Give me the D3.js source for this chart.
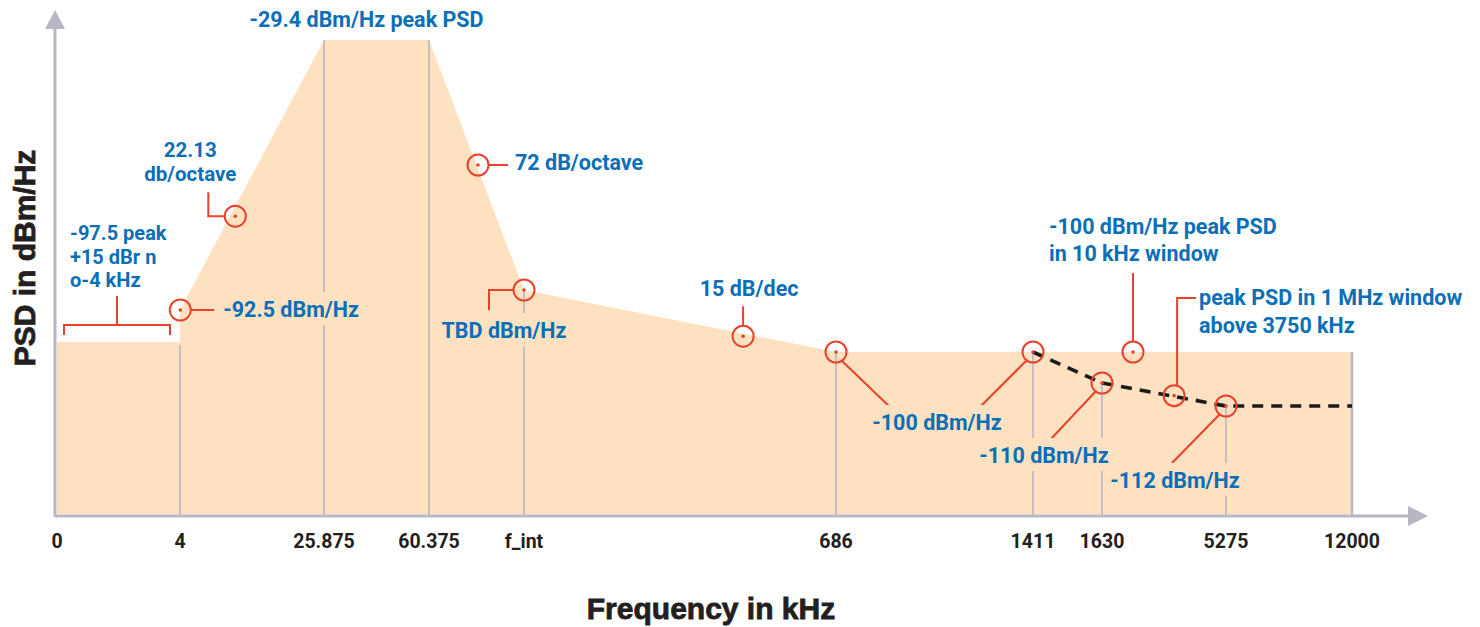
<!DOCTYPE html>
<html>
<head>
<meta charset="utf-8">
<script src="https://cdn.jsdelivr.net/npm/d3@7/dist/d3.min.js"></script>
<style>
  html, body { margin: 0; padding: 0; background: #fff; }
  svg { display: block; }
  .lbl { font-family: Roboto, "Noto Sans", sans-serif; font-weight: 700; fill: #0b6fb8; font-size: 21.5px; }
  .tick { font-family: Roboto, "Noto Sans", sans-serif; font-weight: 700; fill: #231f20; font-size: 19.5px; }
  .title { font-family: "Liberation Sans", Arial, sans-serif; font-weight: 700; fill: #231f20; font-size: 30px; stroke: #231f20; stroke-width: 0.8px; }
</style>
</head>
<body>
<svg id="chart" width="1480" height="627"></svg>
<script>
// ---------------- DATA ----------------
// tick frequencies (kHz) along the schematic frequency axis; f_int ~ 105 kHz
const tickFreqs  = [0, 4, 25.875, 60.375, 105, 686, 1411, 1630, 5275, 12000];
const tickLabels = ["0", "4", "25.875", "60.375", "f_int", "686", "1411", "1630", "5275", "12000"];

// PSD mask (frequency kHz, dBm/Hz) — schematic
const maskFreqs  = [0, 4, 4, 25.875, 60.375, 105, 686, 12000];
const maskValues = [-97.5, -97.5, -92.5, -29.4, -29.4, -87, -100, -100];

// dashed (alternative) limit
const dashFreqs  = [1411, 1630, 5275, 12000];
const dashValues = [-100, -110, -112, -112];

// schematic level marks of the y axis (dBm/Hz) — axis is not to scale
const yLevels = [-112, -110, -100, -97.5, -92.5, -87, -29.4];

// ---------------- SCALES ----------------
const tickPos = [57, 180, 324, 429, 524, 836, 1033, 1102, 1226, 1352];
const x = d3.scaleLinear().domain(tickFreqs).range(tickPos);
const levelPos = [406, 383, 352, 342, 310, 290, 40];
const y = d3.scaleLinear().domain(yLevels).range(levelPos);
const baseY = 514;

const svg = d3.select("#chart");
const RED = "#e8412c", BLUE = "#0b6fb8", GRAY = "#b7b7c3", FILL = "#fde1c0";

// ---------------- MASK AREA ----------------
const mask = maskFreqs.map((f, i) => ({ f, v: maskValues[i] }));
svg.append("path")
  .datum(mask)
  .attr("fill", FILL)
  .attr("d", d3.area().x(d => x(d.f)).y0(baseY).y1(d => y(d.v)));

// ---------------- GRID LINES ----------------
function maskTopAt(f) {
  const vals = mask.filter(d => d.f === f).map(d => d.v);
  if (vals.length) return d3.min(vals);
  for (let i = 0; i < mask.length - 1; i++) {
    if (f >= mask[i].f && f <= mask[i + 1].f) {
      const t = (f - mask[i].f) / (mask[i + 1].f - mask[i].f);
      return mask[i].v + t * (mask[i + 1].v - mask[i].v);
    }
  }
  return -100;
}
const gridData = tickFreqs.slice(1).map(f => {
  const di = dashFreqs.indexOf(f);
  const v = (di >= 0 && f !== 12000) ? dashValues[di] : maskTopAt(f);
  return { f, v };
});
svg.append("g").selectAll("line").data(gridData).join("line")
  .attr("x1", d => x(d.f)).attr("x2", d => x(d.f))
  .attr("y1", d => y(d.v) + (d.f === 4 ? 3 : 0))
  .attr("y2", baseY + 1)
  .attr("stroke", GRAY)
  .attr("stroke-width", d => d.f === 12000 ? 2.4 : 1.6);

// ---------------- DASHED LINE ----------------
const dash = dashFreqs.map((f, i) => ({ f, v: dashValues[i] }));
svg.append("path")
  .datum(dash)
  .attr("fill", "none")
  .attr("stroke", "#1a1a1a")
  .attr("stroke-width", 3.6)
  .attr("stroke-dasharray", "11,8")
  .attr("d", d3.line().x(d => x(d.f)).y(d => y(d.v)));

// ---------------- AXES ----------------
const axG = svg.append("g");
axG.append("line").attr("x1", x(0) - 2).attr("x2", 1410).attr("y1", baseY + 2).attr("y2", baseY + 2)
  .attr("stroke", GRAY).attr("stroke-width", 3);
axG.append("path").attr("d", `M1408,${baseY + 2 - 10} L1428,${baseY + 2} L1408,${baseY + 2 + 10} Z`).attr("fill", GRAY);
axG.append("line").attr("x1", 55).attr("x2", 55).attr("y1", baseY + 3).attr("y2", 28)
  .attr("stroke", GRAY).attr("stroke-width", 3);
axG.append("path").attr("d", "M45,29 L55,10 L65,29 Z").attr("fill", GRAY);

// tick labels
svg.append("g").selectAll("text").data(tickFreqs).join("text")
  .attr("class", "tick")
  .attr("x", d => x(d))
  .attr("y", 548)
  .attr("text-anchor", "middle")
  .text((d, i) => tickLabels[i]);

// axis titles
svg.append("text").attr("class", "title").attr("x", 711).attr("y", 619)
  .attr("text-anchor", "middle").text("Frequency in kHz");
svg.append("text").attr("class", "title")
  .attr("transform", "translate(35,258) rotate(-90)")
  .attr("text-anchor", "middle").text("PSD in dBm/Hz");

// ---------------- ANNOTATIONS ----------------
const ann = svg.append("g");
function circleAt(f, v) {
  const cx = x(f), cy = y(v);
  ann.append("circle").attr("cx", cx).attr("cy", cy).attr("r", 10.5)
    .attr("fill", "none").attr("stroke", RED).attr("stroke-width", 2);
  ann.append("circle").attr("cx", cx).attr("cy", cy).attr("r", 1.8).attr("fill", RED);
  return [cx, cy];
}
function leader(points) {
  ann.append("path").attr("d", d3.line()(points))
    .attr("fill", "none").attr("stroke", RED).attr("stroke-width", 2);
}
function label(lines, px, py, anchor, lh, bg, size) {
  const t = ann.append("text").attr("class", "lbl").attr("text-anchor", anchor || "start");
  if (size) t.style("font-size", size + "px");
  lines.forEach((s, i) => t.append("tspan").attr("x", px).attr("y", py + i * (lh || 27)).text(s));
  if (bg) {
    const b = t.node().getBBox();
    ann.insert("rect", () => t.node())
      .attr("x", b.x - 3).attr("y", b.y - 5).attr("width", b.width + 6).attr("height", b.height + 8)
      .attr("fill", FILL);
  }
  return t;
}

// 0-4 kHz bracket
{
  const xa = x(0) + 7, xb = x(4) - 10, yb = y(-97.5) - 17, xm = (xa + xb) / 2;
  leader([[xa, yb + 10], [xa, yb], [xb, yb], [xb, yb + 10]]);
  leader([[xm, yb], [xm, yb - 29]]);
  label(["-97.5 peak", "+15 dBr n", "o-4 kHz"], 70, 240, "start", 23.5, false, 20);
}

// -92.5 dBm/Hz at 4 kHz
{
  const [cx, cy] = circleAt(4.04, -92.5);
  leader([[cx + 10.5, cy], [cx + 34, cy]]);
  label(["-92.5 dBm/Hz"], cx + 43, cy + 7, "start", 0, true);
}

// 22.13 dB/octave slope
{
  const [cx, cy] = circleAt(12.4, -70);
  leader([[cx - 10.5, cy], [cx - 27, cy], [cx - 27, cy - 24]]);
  label(["22.13", "db/octave"], cx - 45, cy - 59, "middle", 24, false, 20.5);
}

// peak PSD
label(["-29.4 dBm/Hz peak PSD"], (x(25.875) + x(60.375)) / 2 - 10, y(-29.4) - 13, "middle");

// 72 dB/octave
{
  const [cx, cy] = circleAt(83.4, -58.2);
  leader([[cx + 10.5, cy], [cx + 30, cy]]);
  label(["72 dB/octave"], cx + 37, cy + 5, "start");
}

// TBD at f_int
{
  const [cx, cy] = circleAt(105, -87);
  leader([[cx - 10.5, cy], [cx - 35, cy], [cx - 35, cy + 20]]);
  label(["TBD dBm/Hz"], cx - 20, cy + 48, "middle", 0, true);
}

// 15 dB/dec
{
  const [cx, cy] = circleAt(513, -96.6);
  leader([[cx, cy - 10.5], [cx, cy - 30]]);
  label(["15 dB/dec"], cx + 6, cy - 40, "middle");
}

// -100 dBm/Hz at 686 and 1411
{
  const [cx, cy] = circleAt(686, -100);
  leader([[cx + 6, cy + 9], [cx + 56, cy + 57]]);
  const [cx2, cy2] = circleAt(1411, -100);
  leader([[cx2 - 53, cy2 + 55], [cx2 - 6, cy2 + 8]]);
  label(["-100 dBm/Hz"], cx + 101, cy + 78, "middle", 0, true);
}

// -110 dBm/Hz at 1630
{
  const [cx, cy] = circleAt(1630, -110);
  leader([[cx - 52, cy + 57], [cx - 6, cy + 8]]);
  label(["-110 dBm/Hz"], cx - 58, cy + 80, "middle", 0, true);
}

// -112 dBm/Hz at 5275
{
  const [cx, cy] = circleAt(5275, -112);
  leader([[cx - 54, cy + 57], [cx - 6, cy + 8]]);
  label(["-112 dBm/Hz"], cx - 51, cy + 82, "middle", 0, true);
}

// peak PSD in 1 MHz window above 3750 kHz
{
  const [cx, cy] = circleAt(3750, -111.1);
  leader([[cx + 3, cy - 10], [cx + 3, 298], [cx + 22, 298]]);
  label(["peak PSD in 1 MHz window", "above 3750 kHz"], cx + 25, 305, "start", 28);
}

// -100 dBm/Hz peak PSD in 10 kHz window
{
  const [cx, cy] = circleAt(2541, -100);
  leader([[cx, cy - 10.5], [cx, 273]]);
  label(["-100 dBm/Hz peak PSD", "in 10 kHz window"], 1049, 234, "start", 27);
}
</script>
</body>
</html>
